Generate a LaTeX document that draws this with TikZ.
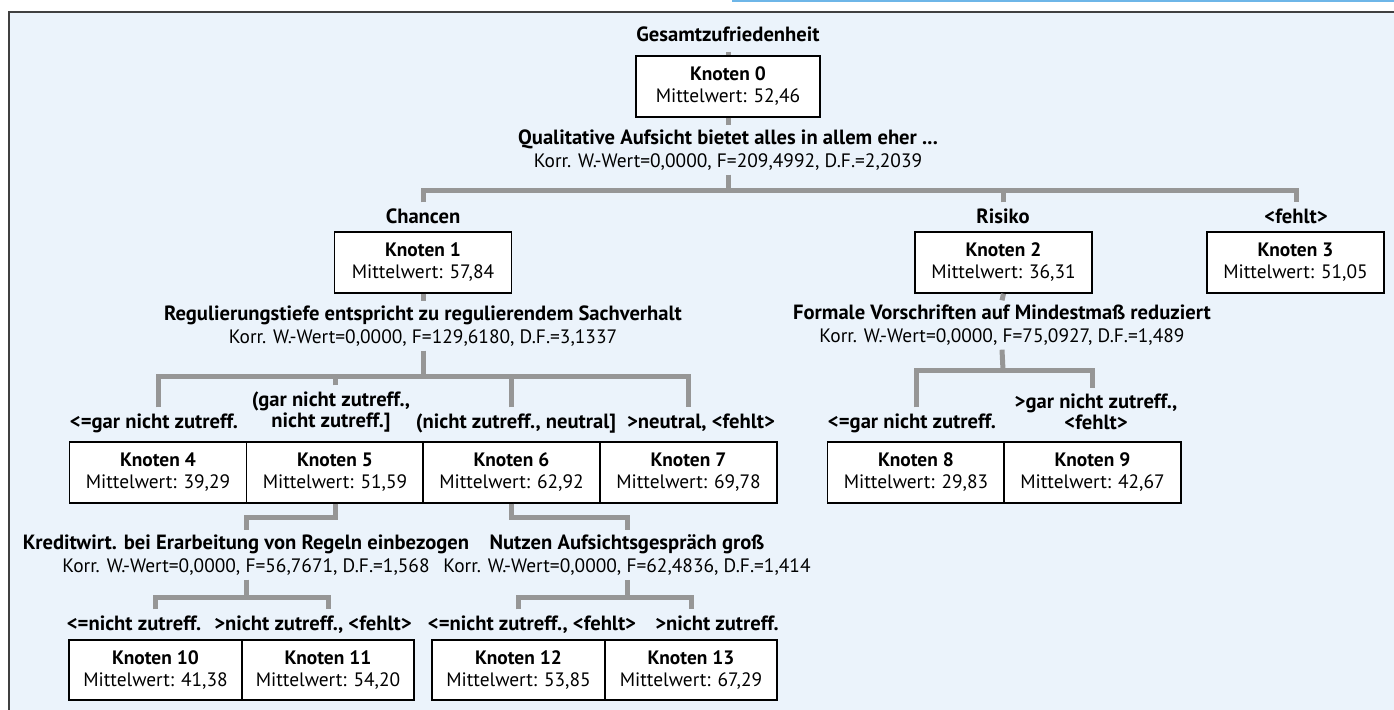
\documentclass[tikz,border=0pt]{standalone}
\usepackage{fontspec}
\setmainfont{PT Sans}
\usepackage{tikz}
\usetikzlibrary{positioning,calc}

\definecolor{hell}{RGB}{235,243,251}
\definecolor{linie}{RGB}{150,150,150}
\definecolor{blau}{RGB}{110,182,232}

\newcommand{\titel}[1]{{\bfseries\fontsize{10.3}{11.5}\selectfont #1}}

\tikzset{
  knoten/.style={draw=black, line width=0.7pt, fill=white, minimum width=88.5pt,
    minimum height=30.5pt, align=center, inner sep=0pt, font=\fontsize{9.7}{11}\selectfont},
  zweig/.style={font=\bfseries\fontsize{10.3}{10.5}\selectfont, text height=7.3pt,
    text depth=2pt, inner xsep=0pt, inner ysep=3pt},
  zweigz/.style={font=\bfseries\fontsize{10.3}{10.5}\selectfont, align=center,
    inner xsep=0pt, inner ysep=3pt},
  teilung/.style={align=center, inner sep=2pt, font=\fontsize{9.7}{11.5}\selectfont},
  verb/.style={draw=linie, line width=2.5pt},
}

\begin{document}
\begin{tikzpicture}[x=0.5pt,y=-0.5pt]
  \clip (0,0) rectangle (1394,709);
  \fill[white] (0,0) rectangle (1394,709);
  \draw[blau, line width=1pt] (732,0.5) -- (1394,0.5);
  \draw[line width=1pt, draw=black!75, fill=hell] (9,12) rectangle (1420,730);

  % Wurzel
  \node (t0) [zweig] at (728,36) {Gesamtzufriedenheit};
  \node (n0) [knoten, minimum width=92pt] at (728,86.5) {\textbf{Knoten 0}\\Mittelwert: 52,46};
  \node (s0) [teilung] at (728,150) {\titel{Qualitative Aufsicht bietet alles in allem eher ...}\\Korr. W.-Wert=0,0000, F=209,4992, D.F.=2,2039};
  \coordinate (b0) at (728,190);

  % Ebene 1
  \node (l1) [zweig] at (423,218) {Chancen};
  \node (l2) [zweig] at (1003,218) {Risiko};
  \node (l3) [zweig] at (1296,218) {<fehlt>};
  \node (n1) [knoten] at (423,262.5) {\textbf{Knoten 1}\\Mittelwert: 57,84};
  \node (n2) [knoten] at (1003.5,262.5) {\textbf{Knoten 2}\\Mittelwert: 36,31};
  \node (n3) [knoten] at (1295.5,262.5) {\textbf{Knoten 3}\\Mittelwert: 51,05};
  \node (s1) [teilung] at (423,326) {\titel{Regulierungstiefe entspricht zu regulierendem Sachverhalt}\\Korr. W.-Wert=0,0000, F=129,6180, D.F.=3,1337};
  \node (s2) [teilung] at (1002,325) {\titel{Formale Vorschriften auf Mindestmaß reduziert}\\Korr. W.-Wert=0,0000, F=75,0927, D.F.=1,489};
  \coordinate (b1) at (423,376);
  \coordinate (b2) at (1003,370);

  % Ebene 2
  \node (l4) [zweig] at (154,423) {<=gar nicht zutreff.};
  \node (l5) [zweigz] at (331,412) {(gar nicht zutreff.,\\nicht zutreff.]};
  \node (l6) [zweig] at (516,423) {(nicht zutreff., neutral]};
  \node (l7) [zweig] at (701,423) {>neutral, <fehlt>};
  \node (l8) [zweig] at (912,423) {<=gar nicht zutreff.};
  \node (l9) [zweigz] at (1096,412) {>gar nicht zutreff.,\\<fehlt>};
  \node (n4) [knoten] at (158,472.5) {\textbf{Knoten 4}\\Mittelwert: 39,29};
  \node (n5) [knoten] at (335,472.5) {\textbf{Knoten 5}\\Mittelwert: 51,59};
  \node (n6) [knoten] at (511.5,472.5) {\textbf{Knoten 6}\\Mittelwert: 62,92};
  \node (n7) [knoten] at (688.5,472.5) {\textbf{Knoten 7}\\Mittelwert: 69,78};
  \node (n8) [knoten] at (916,472.5) {\textbf{Knoten 8}\\Mittelwert: 29,83};
  \node (n9) [knoten] at (1092.5,472.5) {\textbf{Knoten 9}\\Mittelwert: 42,67};
  \node (s5) [teilung] at (246,555) {\titel{Kreditwirt. bei Erarbeitung von Regeln einbezogen}\\Korr. W.-Wert=0,0000, F=56,7671, D.F.=1,568};
  \node (s6) [teilung] at (627,555) {\titel{Nutzen Aufsichtsgespräch groß}\\Korr. W.-Wert=0,0000, F=62,4836, D.F.=1,414};
  \coordinate (b5) at (246,597);
  \coordinate (b6) at (627,597);

  % Ebene 3
  \node (l10) [zweig] at (134,625) {<=nicht zutreff.};
  \node (l11) [zweig] at (313,625) {>nicht zutreff., <fehlt>};
  \node (l12) [zweig] at (532,625) {<=nicht zutreff., <fehlt>};
  \node (l13) [zweig] at (717,625) {>nicht zutreff.};
  \node (n10) [knoten, minimum width=86.5pt, minimum height=30pt] at (155.5,670) {\textbf{Knoten 10}\\Mittelwert: 41,38};
  \node (n11) [knoten, minimum width=86pt, minimum height=30pt] at (328,670) {\textbf{Knoten 11}\\Mittelwert: 54,20};
  \node (n12) [knoten, minimum width=86.5pt, minimum height=30pt] at (518.5,670) {\textbf{Knoten 12}\\Mittelwert: 53,85};
  \node (n13) [knoten, minimum width=86pt, minimum height=30pt] at (691,670) {\textbf{Knoten 13}\\Mittelwert: 67,29};

  % Verbindungen
  \draw[verb] (t0.south) -- (n0.north);
  \draw[verb] (n0.south) -- (s0.north);
  \draw[verb] (s0.south) -- (b0);
  \draw[verb] (l1.north) |- (b0) -| (l3.north);
  \draw[verb] (l2.north) |- (b0);

  \draw[verb] (n1.south) -- (s1.north);
  \draw[verb] (s1.south) -- (b1);
  \draw[verb] (n4.north |- l4.north) |- (b1) -| (n7.north |- l7.north);
  \draw[verb] (n5.north |- l5.north) |- (b1);
  \draw[verb] (n6.north |- l6.north) |- (b1);

  \draw[verb] (n2.south) -- (s2.north);
  \draw[verb] (s2.south) -- (b2);
  \draw[verb] (n8.north |- l8.north) |- (b2) -| (n9.north |- l9.north);

  \draw[verb] (n5.south) -- ++(0,14) -| (s5.north);
  \draw[verb] (s5.south) -- (b5);
  \draw[verb] (n10.north |- l10.north) |- (b5) -| (n11.north |- l11.north);

  \draw[verb] (n6.south) -- ++(0,14) -| (s6.north);
  \draw[verb] (s6.south) -- (b6);
  \draw[verb] (n12.north |- l12.north) |- (b6) -| (n13.north |- l13.north);
\end{tikzpicture}
\end{document}
